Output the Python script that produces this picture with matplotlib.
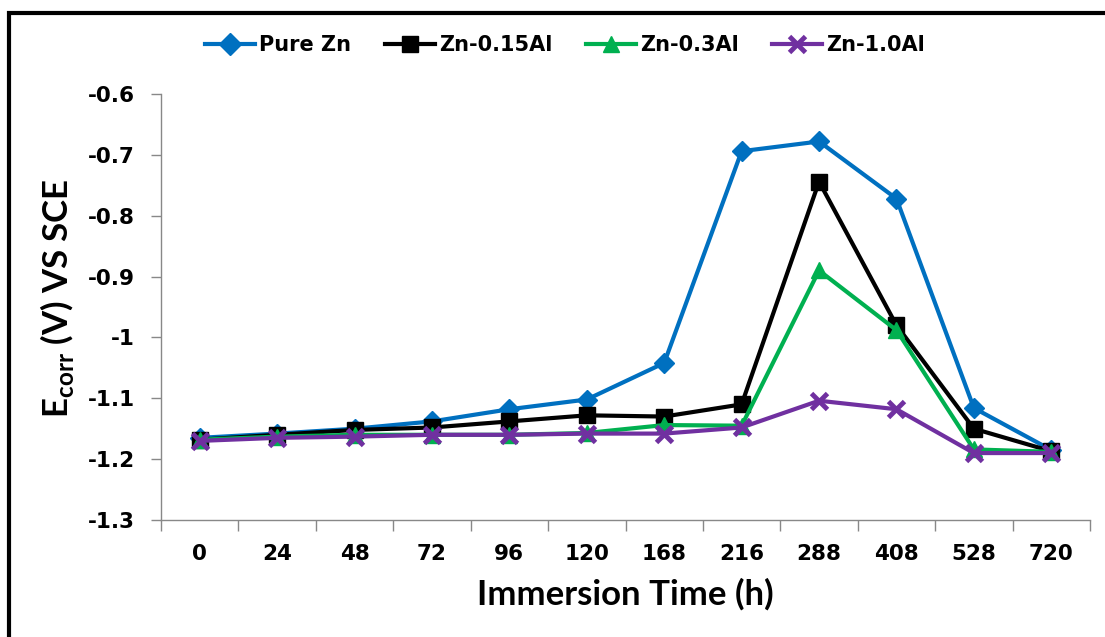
import matplotlib
matplotlib.use("Agg")
import matplotlib.pyplot as plt
from matplotlib.patches import Rectangle

times = ["0", "24", "48", "72", "96", "120", "168", "216", "288", "408", "528", "720"]
pure_zn = [-1.165, -1.158, -1.150, -1.138, -1.118, -1.102, -1.042, -0.694, -0.678, -0.772, -1.116, -1.185]
zn_015al = [-1.168, -1.160, -1.152, -1.148, -1.138, -1.128, -1.130, -1.110, -0.744, -0.980, -1.150, -1.187]
zn_03al = [-1.168, -1.163, -1.160, -1.160, -1.160, -1.157, -1.144, -1.145, -0.890, -0.988, -1.184, -1.188]
zn_10al = [-1.170, -1.165, -1.163, -1.160, -1.160, -1.158, -1.158, -1.148, -1.104, -1.118, -1.190, -1.190]

W, H = 1105, 637
fig = plt.figure(figsize=(W / 100, H / 100), dpi=100)
ax = fig.add_axes([161 / W, 1 - 520 / H, (1090 - 161) / W, (520 - 94) / H])

x = list(range(len(times)))
ax.plot(x, pure_zn, color="#0070C0", lw=3, marker="D", ms=10, label="Pure Zn", zorder=3)
ax.plot(x, zn_015al, color="black", lw=3, marker="s", ms=12, label="Zn-0.15Al", zorder=4)
ax.plot(x, zn_03al, color="#00B050", lw=3, marker="^", ms=12, label="Zn-0.3Al", zorder=5)
ax.plot(x, zn_10al, color="#7030A0", lw=3, marker="x", ms=11, mew=3.5, label="Zn-1.0Al", zorder=6)

ax.set_xlim(-0.5, len(times) - 0.5)
ax.set_ylim(-1.3, -0.6)
ax.set_yticks([-1.3, -1.2, -1.1, -1.0, -0.9, -0.8, -0.7, -0.6])
ax.set_yticklabels(["-1.3", "-1.2", "-1.1", "-1", "-0.9", "-0.8", "-0.7", "-0.6"])
ax.set_xticks(x)
ax.set_xticklabels(times)
ax.set_xticks([i - 0.5 for i in range(len(times) + 1)], minor=True)
ax.tick_params(axis="x", which="major", length=0, pad=17)
ax.tick_params(axis="x", which="minor", length=8, width=1, color="#888888", direction="out")
ax.tick_params(axis="y", length=7, width=1, color="#888888", direction="out", pad=12)

for lab in ax.get_xticklabels() + ax.get_yticklabels():
    lab.set_fontsize(15.5)
    lab.set_fontweight("bold")
    lab.set_family("DejaVu Sans")

for s in ["top", "right"]:
    ax.spines[s].set_visible(False)
for s in ["left", "bottom"]:
    ax.spines[s].set_color("#888888")
    ax.spines[s].set_linewidth(1)

ax.set_xlabel("Immersion Time (h)", fontsize=25, fontweight="bold", family="Lato", labelpad=10)
ax.set_ylabel(r"E$_{\mathregular{corr}}$ (V) VS SCE", fontsize=25, fontweight="bold", family="Lato")
ax.yaxis.set_label_coords(-0.091, 0.52)

leg = fig.legend(loc="center", bbox_to_anchor=(565 / W, 1 - 45 / H), ncol=4, frameon=False,
                 prop={"family": "DejaVu Sans", "weight": "bold", "size": 15},
                 handlelength=2.4, columnspacing=1.6, handletextpad=0.2)
for h in leg.legend_handles:
    h.set_markersize(11)

fig.patches.append(Rectangle((9 / W, -0.1), 1.2, 1.1 - 13 / H, transform=fig.transFigure,
                             fill=False, edgecolor="black", lw=3))

fig.savefig("out.png", dpi=100)
